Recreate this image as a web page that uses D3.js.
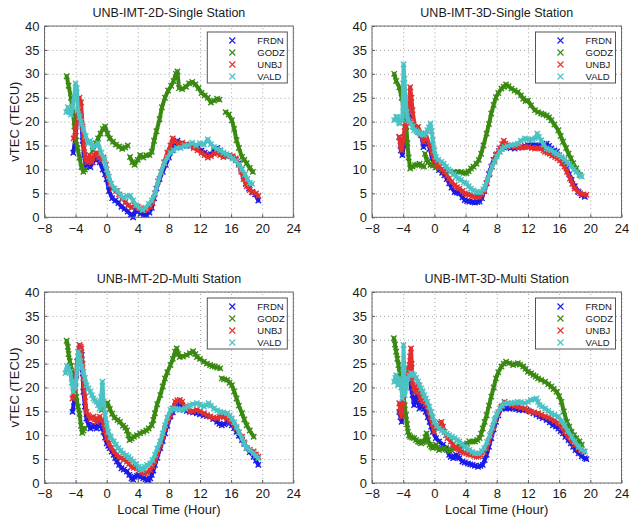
<!DOCTYPE html>
<html>
<head>
<meta charset="utf-8">
<script src="https://cdn.jsdelivr.net/npm/d3@7"></script>
<style>
  body { margin: 0; background: #fff; }
  svg { display: block; font-family: "Liberation Sans", Arial, sans-serif; }
</style>
</head>
<body>
<script>
// Station names and tick values
const stations = ["FRDN", "GODZ", "UNBJ", "VALD"];
const colors = ["#1c1ce8", "#3a8a12", "#e2302e", "#4cc2c4"];
const panelTitles = ["UNB-IMT-2D-Single Station", "UNB-IMT-3D-Single Station",
                     "UNB-IMT-2D-Multi Station", "UNB-IMT-3D-Multi Station"];
const xTicks = [-8, -4, 0, 4, 8, 12, 16, 20, 24];
const yTicks = [0, 5, 10, 15, 20, 25, 30, 35, 40];

// [local hour, vTEC]; null = gap in the record
const frdn2DS = [[-4.3,13.5],[-4.0,17],[-3.8,21],[-3.55,24],[-3.3,21],[-3.1,16],[-2.9,13],[-2.7,10.5],[-2.4,11],[-2.1,10.5],[-1.8,11.5],[-1.5,12],[-1.2,12.5],[-0.9,11.5],[-0.5,10],[-0.2,9],[0,8],[0.3,5.5],[0.7,4],[1.1,3.5],[1.5,3],[1.9,2.2],[2.3,1.8],[2.7,1.2],[3.1,0.6],[3.4,0],[3.7,1.5],[4.0,1.2],[4.4,0.8],[4.8,0.5],[5.1,0.5],[5.5,1],[5.8,2],[6.1,4],[6.4,6],[6.8,8],[7.2,9.5],[7.6,11],[8.0,12.5],[8.4,14],[8.8,15.5],[9.1,16],[9.4,15.2],[9.8,15],[10.3,15],[10.8,15],[11.2,14.8],[11.7,14.5],[12.2,14],[12.6,13.5],[13.0,13],[13.4,13.2],[13.8,14],[14.2,14.5],[14.6,14],[15.0,13.2],[15.4,12.8],[15.8,12.8],[16.2,12.5],[16.6,12],[17.0,11.3],[17.3,10],[17.6,8.5],[17.9,7],[18.3,6],[18.7,5.3],[19.1,4.8],[19.5,3.5]];
const godz2DS = [[-5.15,29.5],[-4.9,27.5],[-4.6,25],[-4.35,22],[-4.15,19],[-3.95,16],[-3.75,14.5],[-3.5,12.5],[-3.25,10.5],[-3.0,9.5],[-2.8,10],null,[-1.8,14],[-1.4,15.5],[-1.1,16.5],[-0.8,17.5],[-0.5,18.5],[-0.2,19],[0.1,17.5],[0.4,16.5],[0.8,15.8],[1.2,15.2],[1.6,14.8],[2.0,14.3],[2.4,14.6],[2.7,15],null,[3.0,12.6],[3.3,11.5],[3.6,11],[4.0,12],[4.3,13],[4.7,12.5],[5.1,13],[5.5,13],[5.8,13.7],[6.1,16],[6.4,18],[6.8,20.5],[7.1,23],[7.5,25],[7.9,26.5],[8.3,27.5],[8.6,28.5],[8.9,30],[9.1,30.5],[9.3,27],[9.7,26.8],[10.2,27.3],[10.6,28],[11.0,28.3],[11.4,27.8],[11.8,27],[12.2,26],[12.6,25.5],[13.0,25],[13.4,24],[13.8,24.4],[14.2,24.8],[14.5,24.6],null,[15.3,22],[15.7,21.5],[16.1,20.3],[16.4,18.5],[16.7,16.1],[17.0,14.5],[17.4,12.6],[17.7,12],[18.0,11.3],[18.4,10.3],[18.8,9.5]];
const unbj2DS = [[-4.25,16.5],[-4.0,18],[-3.75,21],[-3.5,25],[-3.3,24],[-3.1,19],[-2.9,14.5],[-2.7,12],[-2.5,11.5],[-2.2,13],[-1.9,11.5],[-1.6,13],[-1.3,13.5],[-1.0,12.5],[-0.7,12],[-0.4,12.5],[-0.1,11],[0.1,9],[0.4,7],[0.8,6],[1.2,5.5],[1.6,4.8],[2.0,4],[2.4,3.2],[2.8,2.5],[3.2,2],[3.6,2.5],[4.0,2.2],[4.4,1.8],[4.8,1.5],[5.2,1.6],[5.6,2.2],[5.9,3],[6.2,5],[6.6,7.5],[7.0,9.5],[7.4,11.5],[7.8,13.5],[8.2,15],[8.5,16.5],[8.8,15.8],[9.2,15.5],[9.7,15.6],[10.2,15.3],[10.7,15],[11.2,14.5],[11.7,14],[12.2,13.5],[12.6,13],[13.0,12.5],[13.4,12.8],[13.8,13.3],[14.2,13.5],[14.6,13],[15.0,12.6],[15.4,12.8],[15.8,13],[16.2,12.8],[16.6,12.3],[17.0,11],[17.3,9.5],[17.6,8],[18.0,6.5],[18.4,5.7],[18.8,5.2],[19.2,5],[19.5,4.5]];
const vald2DS = [[-5.2,22],[-5.0,23],[-4.8,22],[-4.6,21.5],[-4.4,23],[-4.2,25],[-4.0,28],[-3.85,27],[-3.7,22.5],[-3.5,21],[-3.3,20],[-3.0,18.5],[-2.7,17],[-2.4,15.5],[-2.1,16],[-1.8,14.5],[-1.5,15],[-1.1,15.5],[-0.7,13.5],[-0.3,12],[0,10],[0.3,8.5],[0.6,7],[1.0,6],[1.4,5.5],[1.8,4.5],[2.2,4],[2.6,4.5],[3.0,4.5],[3.4,3.5],[3.8,2.5],[4.2,2],[4.6,1.5],[5.0,2],[5.4,2.8],[5.8,3.5],[6.2,5],[6.6,7.5],[7.0,9.5],[7.4,11.3],[7.8,12.5],[8.2,13.5],[8.6,14],[9.0,14.5],[9.5,14.5],[10.0,15],[10.5,15],[11.0,15.6],[11.5,15],[12.0,15.5],[12.5,15.2],[13.0,16.3],[13.4,15.3],[13.8,14.7],[14.2,14.3],[14.6,14],[15.0,13.5],[15.4,13.2],[15.8,12.8],[16.2,12.3],[16.6,11.8],[17.0,11],[17.4,10],[17.8,9],[18.1,8],[18.4,7.2],[18.7,7]];

const frdn3DS = [[-4.5,16.8],[-4.3,14],[-4.1,13],[-3.9,15],[-3.65,19],[-3.35,21.7],[-3.0,20.6],[-2.6,18.9],[-2.1,17.8],[-1.7,17.2],[-1.4,14.7],[-1.1,16.1],[-0.6,14.4],[-0.3,12.5],[0,11.2],[0.3,10.5],[0.6,9.9],[1.0,9.3],[1.3,8.8],[1.6,8],[1.9,7.1],[2.2,6.2],[2.6,5.3],[2.9,5.2],[3.2,5],[3.6,4.2],[3.9,3.6],[4.2,3.4],[4.5,3.3],[4.9,3.2],[5.2,3.1],[5.5,3.2],[5.8,3.3],[6.1,4],[6.4,5.5],[6.7,7.1],[7.0,9],[7.3,10.6],[7.6,12],[7.9,13],[8.3,13.8],[8.6,14.4],[9.0,14.6],[9.4,14.7],[9.8,14.5],[10.3,14.4],[10.8,14.6],[11.2,14.7],[11.6,14.9],[12.0,15.1],[12.5,15.1],[12.9,15.1],[13.3,15],[13.7,15.1],[14.1,15.3],[14.4,15.4],[14.7,14.9],[15.0,14.4],[15.4,14],[15.7,13.7],[16.0,13],[16.3,12.3],[16.6,11.3],[16.95,10.2],[17.3,9],[17.6,7.8],[18.0,6.5],[18.5,5.3],[18.9,4.6],[19.3,4.3]];
const godz3DS = [[-5.15,30],[-4.9,28.5],[-4.5,27.2],[-4.2,25],[-3.95,23],[-3.75,20.5],[-3.6,18.9],[-3.45,15.5],[-3.3,12.5],[-3.1,10.2],[-2.8,10.6],[-2.5,10.9],[-2.2,11],[-1.9,11.2],[-1.6,10.8],[-1.35,10.6],null,[-1.2,13.3],[-1.0,12],[-0.8,11.5],[-0.5,11],[-0.2,10.8],[0.2,10.5],[0.6,10.3],[1.0,10],[1.5,9.8],[2.0,9.6],[2.5,9.5],[3.0,9.5],[3.4,9.5],[3.8,9.3],[4.1,9.2],[4.4,9.6],[4.7,10.2],[5.0,10.6],[5.4,11.2],[5.7,12],[6.0,13.3],[6.3,15],[6.7,17.5],[7.0,19.5],[7.3,21.7],[7.6,23.5],[7.9,25.1],[8.2,26],[8.6,26.9],[8.9,27.3],[9.2,27.8],[9.5,27.4],[9.9,26.9],[10.3,26.5],[10.7,26.2],[11.1,25.5],[11.4,24.8],[11.7,24.3],[12.0,24.4],[12.4,23.4],[12.9,22.4],[13.3,22],[13.7,21.7],[14.0,21.5],[14.4,21.3],[14.7,20.9],[15.0,20.3],[15.4,19.4],[15.9,18.2],[16.2,17],[16.5,15.8],[16.9,14.5],[17.2,13.3],[17.5,12.3],[17.8,11.3],[18.2,10.2],[18.7,8.8]];
const unbj3DS = [[-4.5,16.8],[-4.35,15],[-4.2,14],[-4.0,16],[-3.8,18.9],[-3.6,19.8],[-3.4,20.3],[-3.25,23],[-3.1,27.2],[-2.95,25],[-2.8,22.4],[-2.5,18.9],[-2.1,18.9],[-1.7,17.5],[-1.4,15.8],[-1.1,17.2],[-0.6,15.1],[-0.3,13.5],[0,11.9],[0.3,11.2],[0.6,10.6],[1.0,10],[1.3,9.5],[1.6,8.8],[1.9,8.1],[2.2,7.4],[2.6,6.7],[2.9,6.3],[3.2,6],[3.6,5.5],[3.9,5],[4.2,4.8],[4.5,4.7],[4.9,4.5],[5.2,4.3],[5.5,4.3],[5.8,4.3],[6.1,4.8],[6.4,5.7],[6.7,7.2],[7.1,9.2],[7.4,10.6],[7.7,11.9],[8.0,13.2],[8.4,14.4],[8.7,15.3],[8.9,16],[9.1,15.4],[9.4,15.1],[9.8,14.9],[10.3,14.7],[10.8,14.6],[11.2,14.6],[11.6,14.7],[12.0,14.7],[12.5,14.5],[12.9,14.4],[13.3,14.5],[13.7,14.4],[14.0,14],[14.2,13.7],[14.5,13.5],[14.8,13.3],[15.1,12.9],[15.5,12.6],[15.8,12.3],[16.1,11.9],[16.4,11.3],[16.7,10.6],[17.0,9.5],[17.4,8.1],[17.7,7],[18.0,6],[18.4,5.4],[18.7,5],[19.1,4.8],[19.5,4.7]];
const vald3DS = [[-5.15,20.3],[-4.9,21],[-4.7,21],[-4.55,19.8],[-4.4,19.6],[-4.25,20.3],[-4.1,20.6],[-4.0,28],[-3.95,32],[-3.85,29],[-3.7,25],[-3.55,22],[-3.4,20.3],[-3.2,20],[-3.0,19.6],[-2.8,19],[-2.6,18.2],[-2.3,18],[-2.1,17.8],[-1.9,17.5],[-1.7,17.5],[-1.5,17.3],[-1.3,17.2],[-1.1,17.6],[-0.9,18.2],[-0.7,18.8],[-0.5,19.6],[-0.35,18],[-0.2,16.1],[0,14],[0.2,12.6],[0.5,12],[0.9,11.6],[1.2,11.2],[1.5,10.6],[1.8,10],[2.1,9.5],[2.5,9],[2.8,8.5],[3.1,8.1],[3.4,7.8],[3.8,7.3],[4.1,7.1],[4.4,6.5],[4.7,6],[5.0,5.6],[5.4,5.3],[5.7,5.3],[6.0,5.3],[6.3,5.8],[6.5,6.4],[6.8,7.8],[7.1,9.2],[7.4,10.5],[7.7,11.6],[8.0,12.7],[8.4,13.7],[8.7,14.3],[9.0,14.7],[9.4,14.9],[9.9,15.1],[10.3,15.2],[10.7,15.4],[11.1,16],[11.6,16.5],[11.9,16.3],[12.2,16.1],[12.6,16.3],[12.9,16.5],[13.2,17.5],[13.4,16.8],[13.7,16.1],[14.0,15.2],[14.4,14.4],[14.7,14.2],[15.0,14],[15.4,13.6],[15.7,13.3],[16.0,13],[16.3,12.6],[16.7,12.1],[17.0,11.6],[17.3,11.1],[17.6,10.6],[17.9,10],[18.2,9.5],[18.6,8.9],[18.9,8.5]];

const frdn2DM = [[-4.4,14.9],[-4.2,17],[-4.05,20],[-3.9,22.6],[-3.7,25.5],[-3.5,28.2],[-3.35,27.5],[-3.2,26.8],[-3.1,23],[-3.0,19.1],[-2.8,16],[-2.6,13.5],[-2.35,12.2],[-2.1,11.4],[-1.9,11.8],[-1.7,12.1],[-1.5,11.8],[-1.3,11.4],[-1.1,12],[-0.9,12.5],[-0.6,11.5],[-0.4,10.7],[-0.2,9.5],[0,8.3],[0.2,7.8],[0.4,7.3],[0.65,6.6],[0.9,5.9],[1.1,5.2],[1.3,4.5],[1.6,3.8],[1.9,3.1],[2.2,2.8],[2.6,2.4],[2.9,1.7],[3.2,1],[3.4,0.7],[3.6,1.3],[3.9,1.5],[4.1,1.7],[4.4,1.3],[4.7,1],[5.0,0.8],[5.2,0.6],[5.4,0.6],[5.6,1],[5.8,1.7],[6.0,2.6],[6.2,3.8],[6.5,5.3],[6.9,7.3],[7.2,8.8],[7.5,10.4],[7.8,12],[8.2,13.9],[8.5,14.8],[8.8,15.6],[9.1,16.2],[9.4,16.7],[9.6,16.2],[9.9,15.3],[10.3,15.1],[10.7,14.9],[11.1,14.8],[11.6,14.6],[12.0,14.4],[12.5,14.2],[12.9,14],[13.3,13.9],[13.7,13.4],[14.2,12.8],[14.5,12.4],[14.8,12.1],[15.1,12.3],[15.5,12.8],[15.8,12.5],[16.1,12.1],[16.4,11.5],[16.7,10.7],[17.0,9.9],[17.4,9],[17.7,8.2],[18.0,7.3],[18.4,6.5],[18.9,5.5],[19.2,4.7],[19.5,3.8]];
const godz2DM = [[-5.15,29.8],[-5.0,28.5],[-4.9,27],[-4.75,25.5],[-4.6,24.5],[-4.45,23.2],[-4.3,22],[-4.1,20],[-3.9,18],[-3.7,16],[-3.5,14.5],[-3.3,12],[-3.15,10.5],[-3.0,11],[-2.85,11.5],null,[-0.65,15.3],[-0.3,16.3],[0.1,16.8],[0.4,15.5],[0.7,14.5],[1.0,13.7],[1.4,13.2],[1.7,12.8],[2.1,12],[2.4,11.6],[2.6,11],[2.8,10],[2.95,9],[3.2,9.3],[3.5,9.7],[3.9,10],[4.3,10.4],[4.7,10.7],[5.1,11],[5.4,11.4],[5.8,12.1],[6.0,13.2],[6.2,14.6],[6.5,16.5],[6.9,18.4],[7.2,20.2],[7.5,21.9],[7.8,23.2],[8.2,24.7],[8.5,26],[8.8,27.5],[9.0,28.2],[9.2,27],[9.4,26.4],[9.8,26.5],[10.3,26.8],[10.7,27.2],[11.1,27.6],[11.4,27],[11.6,26.4],[12.0,26],[12.5,25.4],[12.9,25],[13.3,24.7],[13.6,24.5],[13.9,24.4],[14.2,24.2],[14.6,24],null,[14.8,21.9],[15.1,21.7],[15.5,21.6],[15.8,21],[16.1,20.5],[16.4,19.2],[16.7,17.7],[17.0,16.2],[17.4,14.6],[17.7,13.3],[18.0,12.1],[18.4,11],[18.9,9.7]];
const unbj2DM = [[-4.4,17.7],[-4.25,18.8],[-4.1,19.8],[-3.95,22.5],[-3.8,25.4],[-3.65,27.5],[-3.5,28.9],[-3.35,28.6],[-3.25,28.2],[-3.1,25],[-3.0,21.9],[-2.8,18],[-2.6,14.9],[-2.35,14.2],[-2.1,13.5],[-1.9,13.7],[-1.7,13.9],[-1.5,13.3],[-1.3,12.8],[-1.1,13.4],[-0.9,13.9],[-0.6,13.2],[-0.4,12.5],[-0.2,11],[0,9.4],[0.3,8.3],[0.6,7.3],[0.95,6.6],[1.3,5.9],[1.6,5.5],[1.9,5.2],[2.2,4.9],[2.6,4.5],[2.9,4],[3.2,3.4],[3.5,3.2],[3.9,3.1],[4.2,2.7],[4.5,2.4],[4.7,2.2],[4.9,2],[5.2,2.2],[5.6,2.7],[5.9,3.5],[6.2,4.5],[6.5,6],[6.9,8],[7.2,9.7],[7.5,11.4],[7.8,12.8],[8.2,14.2],[8.5,15.6],[8.8,17],[9.1,17.3],[9.4,17.4],[9.7,17],[10.1,16],[10.4,15.4],[10.7,14.9],[11.1,15.1],[11.6,15.3],[12.0,15],[12.5,14.6],[12.9,14.2],[13.3,13.9],[13.7,13.7],[14.2,13.5],[14.5,13.9],[14.8,14.2],[15.1,13.8],[15.5,13.5],[15.8,13.1],[16.1,12.8],[16.4,12.1],[16.7,11.4],[17.0,10.6],[17.4,9.7],[17.7,8.5],[18.0,7.3],[18.4,7],[18.9,6.6],[19.2,6],[19.5,5.5]];
const vald2DM = [[-5.3,23],[-5.1,24.5],[-4.9,24],[-4.7,23.3],[-4.5,21],[-4.3,19.1],[-4.1,20],[-3.95,21.2],[-3.8,24],[-3.65,27.5],[-3.5,26.5],[-3.4,25.4],[-3.2,24.3],[-3.0,23.3],[-2.8,22],[-2.6,20.5],[-2.35,19.8],[-2.1,19.1],[-1.9,18.4],[-1.7,17.7],[-1.5,17.3],[-1.3,17],[-1.1,16.3],[-0.9,15.6],[-0.7,18],[-0.55,21.2],[-0.4,17],[-0.2,14.2],[0,12.4],[0.2,10.7],[0.5,9.7],[0.9,8.7],[1.2,8],[1.5,7.3],[1.8,6.8],[2.1,6.2],[2.5,5.8],[2.8,5.5],[3.1,5],[3.4,4.5],[3.8,4],[4.1,3.4],[4.3,3],[4.5,2.7],[4.7,3],[4.9,3.4],[5.2,3.8],[5.6,4.1],[5.9,4.8],[6.2,5.9],[6.5,7.2],[6.9,8.7],[7.2,10.4],[7.5,12.1],[7.8,13.7],[8.2,15.3],[8.5,15.5],[8.8,15.6],[9.1,15.5],[9.4,15.3],[9.7,15.4],[10.1,15.6],[10.4,16],[10.7,16.3],[11.1,16.5],[11.6,16.7],[12.0,16.4],[12.5,16],[12.8,16.3],[13.1,16.7],[13.4,16.2],[13.8,15.6],[14.2,15.2],[14.6,14.9],[15.0,14.8],[15.5,14.6],[15.8,14.1],[16.1,13.5],[16.4,12.7],[16.7,11.8],[17.0,10.6],[17.4,9.4],[17.7,8.3],[18.0,7.3],[18.4,6.8],[18.9,6.2],[19.2,5.7],[19.5,5.2]];

const frdn3DM = [[-4.5,14.9],[-4.35,13.8],[-4.2,12.8],[-4.05,16],[-3.9,19.8],[-3.7,21.5],[-3.5,22.6],[-3.35,22.3],[-3.2,21.9],[-3.0,20],[-2.8,18.4],[-2.6,16.3],[-2.4,17.5],[-2.2,18.4],[-2.05,17],[-1.9,15.6],[-1.7,16],[-1.5,16.3],[-1.3,15.6],[-1.1,14.9],[-0.85,13.8],[-0.6,12.8],[-0.4,11.8],[-0.2,10.7],[0.2,9.4],[0.6,8.7],[1.1,8],[1.5,7.3],[1.9,5.9],[2.1,5.5],[2.4,5.2],[2.6,5.5],[2.8,5.9],[3.0,5.5],[3.2,5.2],[3.6,4.5],[3.9,4.3],[4.3,4.1],[4.6,3.9],[4.9,3.8],[5.2,3.6],[5.6,3.4],[5.9,3.6],[6.2,3.8],[6.45,4.8],[6.7,5.9],[7.0,7.6],[7.3,9.4],[7.6,11.2],[7.9,12.8],[8.2,14.2],[8.6,15.6],[8.9,15.7],[9.2,15.6],[9.6,15.6],[10.1,15.6],[10.5,15.5],[10.9,15.3],[11.3,15.3],[11.8,15.3],[12.2,15],[12.7,14.6],[13.1,14.3],[13.5,13.9],[13.9,13.6],[14.4,13.2],[14.8,12.7],[15.2,12.1],[15.6,11.8],[15.9,11.4],[16.2,10.9],[16.5,10.4],[16.8,9.7],[17.2,9],[17.5,8.3],[17.8,7.6],[18.1,6.9],[18.5,6.2],[18.9,5.6],[19.3,5.2],[19.5,5]];
const godz3DM = [[-5.2,30.3],[-5.05,29],[-4.9,27.5],[-4.75,26],[-4.6,24.7],[-4.45,23.2],[-4.3,21.9],[-4.1,20],[-3.95,18.4],[-3.8,16.3],[-3.65,14.2],[-3.5,12.3],[-3.4,10.7],[-3.25,10],[-3.1,9.7],[-2.85,9.5],[-2.6,9.4],[-2.35,9],[-2.1,8.7],[-1.9,8.5],[-1.7,8.3],[-1.5,8.5],[-1.3,8.7],[-1.15,9.6],[-1.0,10.4],[-0.8,9],[-0.6,8],[-0.4,7.6],[-0.2,7.3],[0.0,7.7],[0.2,8],[0.4,7.4],[0.6,6.9],[0.9,7.1],[1.3,7.3],[1.6,6.9],[1.9,6.6],[2.15,7],[2.4,7.3],[2.8,7.5],[3.2,7.7],[3.6,7.9],[3.9,8],[4.2,8.3],[4.5,8.7],[4.9,8.7],[5.2,8.7],[5.5,9],[5.8,9.4],[6.0,10.3],[6.2,11.4],[6.45,12.8],[6.7,14.2],[7.0,16.2],[7.3,18.1],[7.6,20],[7.9,21.9],[8.2,23.2],[8.6,24.4],[8.9,25],[9.2,25.4],[9.6,25.1],[10.1,24.7],[10.4,24.9],[10.7,25.1],[11.0,24.8],[11.4,24.4],[11.7,23.9],[12.0,23.3],[12.4,23],[12.7,22.6],[13.0,22.3],[13.3,21.9],[13.7,21.6],[14.2,21.2],[14.6,20.7],[15.0,20.2],[15.3,19.7],[15.7,19.1],[16.0,18.2],[16.3,17],[16.6,15],[17.0,12.8],[17.3,11.8],[17.6,10.7],[17.9,10],[18.2,9.4],[18.6,8.7],[18.9,8]];
const unbj3DM = [[-4.5,16.7],[-4.35,15],[-4.2,13.9],[-4.05,17],[-3.9,20.5],[-3.7,22],[-3.5,23.3],[-3.35,24],[-3.2,24.7],[-3.1,26.5],[-3.0,28.2],[-2.9,25],[-2.8,21.2],[-2.65,20],[-2.5,19.1],[-2.3,19.8],[-2.1,20.5],[-1.95,19],[-1.8,17.7],[-1.6,17.3],[-1.4,17],[-1.15,16.5],[-0.9,16],[-0.7,15],[-0.5,13.9],[-0.25,12.3],[0,10.7],[0.25,11.5],[0.5,12.1],[0.7,12.5],[0.9,12.8],[1.1,11.8],[1.3,10.7],[1.5,10],[1.7,9.4],[2.1,8.7],[2.4,8],[2.8,7.3],[3.1,7],[3.4,6.6],[3.8,6.4],[4.1,6.2],[4.4,6],[4.7,5.9],[5.1,5.7],[5.4,5.5],[5.7,5.6],[6.0,5.9],[6.35,6.5],[6.7,7.3],[7.0,8.8],[7.3,10.4],[7.6,12],[7.9,13.5],[8.2,14.8],[8.6,16],[9.0,17],[9.4,16.7],[9.9,16.3],[10.3,16.1],[10.7,16],[11.1,15.8],[11.6,15.6],[12.0,15.2],[12.4,14.9],[12.8,14.8],[13.3,14.6],[13.7,14.3],[14.2,13.9],[14.6,13.7],[15.0,13.5],[15.4,13],[15.9,12.5],[16.3,11.6],[16.7,10.7],[17.1,9.8],[17.6,8.7],[18.0,8],[18.5,7.3],[18.8,6.9],[19.1,6.6]];
const vald3DM = [[-5.15,21.2],[-5.0,22],[-4.9,22.6],[-4.8,21.5],[-4.7,20.5],[-4.55,21.2],[-4.4,21.9],[-4.25,20],[-4.1,17.7],[-4.0,24],[-3.95,28.9],[-3.88,24],[-3.8,18.4],[-3.6,20],[-3.4,21.9],[-3.2,22.5],[-3.0,23],[-2.8,22.8],[-2.6,22.6],[-2.35,22],[-2.1,21.2],[-1.9,20.5],[-1.7,19.8],[-1.5,19.1],[-1.3,18.4],[-1.1,17.7],[-0.9,17],[-0.65,16],[-0.4,14.9],[-0.2,13.8],[0,12.8],[0.3,12],[0.6,11.4],[0.95,11],[1.3,10.7],[1.6,10.3],[1.9,10],[2.25,9.7],[2.6,9.4],[2.9,9],[3.2,8.7],[3.55,8.1],[3.9,7.6],[4.2,7.2],[4.5,6.9],[4.85,6.5],[5.2,6.2],[5.5,6.2],[5.8,6.2],[6.1,6.7],[6.4,7.3],[6.75,8.6],[7.1,10],[7.4,11.6],[7.7,13.2],[8.0,14.4],[8.4,15.6],[8.7,16.2],[9.0,16.7],[9.4,16.7],[9.9,16.7],[10.3,16.8],[10.7,17],[11.1,16.9],[11.6,16.7],[12.0,17],[12.4,17.4],[12.8,17.5],[13.1,17.7],[13.3,17],[13.5,16.3],[13.8,16],[14.2,15.6],[14.6,15.1],[15.0,14.6],[15.4,14.3],[15.9,13.9],[16.3,13],[16.7,12.1],[17.1,10.9],[17.6,9.7],[18.0,8.7],[18.5,7.6],[18.9,7],[19.3,6.6]];

const panelSeries = [
  [frdn2DS, godz2DS, unbj2DS, vald2DS],
  [frdn3DS, godz3DS, unbj3DS, vald3DS],
  [frdn2DM, godz2DM, unbj2DM, vald2DM],
  [frdn3DM, godz3DM, unbj3DM, vald3DM]
];

// Layout of the four axes boxes (pixels)
const boxes = [
  {left: 44.5, right: 293.3, top: 26, bottom: 217.3},
  {left: 372, right: 621.5, top: 26, bottom: 217.3},
  {left: 44.5, right: 293.3, top: 292, bottom: 483},
  {left: 372, right: 621.5, top: 292, bottom: 483}
];

const svg = d3.select("body").append("svg")
  .attr("width", 630)
  .attr("height", 522)
  .style("background", "white");

const xMark = (s) => `M${-s},${-s}L${s},${s}M${-s},${s}L${s},${-s}`;

boxes.forEach((b, i) => {
  const width = b.right - b.left;
  const height = b.bottom - b.top;
  const g = svg.append("g").attr("transform", `translate(${b.left}, ${b.top})`);

  const xScale = d3.scaleLinear().domain([-8, 24]).range([0, width]);
  const yScale = d3.scaleLinear().domain([0, 40]).range([height, 0]);

  // dotted grid
  const gridX = g.append("g")
    .attr("transform", `translate(0, ${height})`)
    .call(d3.axisBottom(xScale).tickValues(xTicks).tickSize(-height).tickFormat(""));
  const gridY = g.append("g")
    .call(d3.axisLeft(yScale).tickValues(yTicks).tickSize(-width).tickFormat(""));
  [gridX, gridY].forEach(gr => {
    gr.select(".domain").remove();
    gr.selectAll("line")
      .attr("stroke", "#8a8a8a")
      .attr("stroke-width", 0.8)
      .attr("stroke-dasharray", "1,3");
  });

  // data: thick band + x markers
  const line = d3.line()
    .defined(d => d !== null)
    .x(d => xScale(d[0]))
    .y(d => yScale(d[1]));

  panelSeries[i].forEach((series, k) => {
    g.append("path")
      .datum(series)
      .attr("fill", "none")
      .attr("stroke", colors[k])
      .attr("stroke-width", 4)
      .attr("stroke-linejoin", "round")
      .attr("stroke-linecap", "round")
      .attr("d", line);
    g.selectAll(".pt" + k)
      .data(series.filter(d => d !== null))
      .join("path")
      .attr("class", "pt" + k)
      .attr("transform", d => `translate(${xScale(d[0])}, ${yScale(d[1])})`)
      .attr("d", xMark(2.7))
      .attr("stroke", colors[k])
      .attr("stroke-width", 1.4)
      .attr("fill", "none");
  });

  // tick labels with small inside ticks
  const xAxis = g.append("g")
    .attr("transform", `translate(0, ${height})`)
    .call(d3.axisBottom(xScale).tickValues(xTicks).tickSizeInner(-3).tickSizeOuter(0).tickPadding(6));
  const yAxis = g.append("g")
    .call(d3.axisLeft(yScale).tickValues(yTicks).tickSizeInner(-3).tickSizeOuter(0).tickPadding(5));
  [xAxis, yAxis].forEach(ax => {
    ax.select(".domain").remove();
    ax.selectAll("line").attr("stroke", "#555");
    ax.selectAll("text")
      .attr("fill", "#1a1a1a")
      .style("font-size", "13px")
      .style("font-family", "Liberation Sans, Arial, sans-serif");
  });

  // box
  g.append("rect")
    .attr("width", width)
    .attr("height", height)
    .attr("fill", "none")
    .attr("stroke", "#6a6a6a")
    .attr("stroke-width", 1);

  // title
  svg.append("text")
    .text(panelTitles[i])
    .attr("x", (b.left + b.right) / 2)
    .attr("y", b.top - 9)
    .attr("text-anchor", "middle")
    .style("font-size", "12.5px")
    .style("fill", "#1a1a1a");

  // legend
  const lg = g.append("g").attr("transform", `translate(${width - 86}, 6)`);
  lg.append("rect")
    .attr("width", 80)
    .attr("height", 51)
    .attr("fill", "white")
    .attr("stroke", "#555")
    .attr("stroke-width", 1);
  stations.forEach((s, k) => {
    const yy = 8.5 + k * 12;
    lg.append("path")
      .attr("transform", `translate(25, ${yy})`)
      .attr("d", xMark(3))
      .attr("stroke", colors[k])
      .attr("stroke-width", 1.1)
      .attr("fill", "none");
    lg.append("text")
      .text(s)
      .attr("x", 50)
      .attr("y", yy + 3.5)
      .style("font-size", "9.5px")
      .style("fill", "#1a1a1a");
  });
});

// axis labels
svg.append("text")
  .text("vTEC (TECU)")
  .attr("transform", `translate(19, ${(boxes[0].top + boxes[0].bottom) / 2}) rotate(-90)`)
  .attr("text-anchor", "middle")
  .style("font-size", "13px")
  .style("fill", "#1a1a1a");
svg.append("text")
  .text("vTEC (TECU)")
  .attr("transform", `translate(19, ${(boxes[2].top + boxes[2].bottom) / 2}) rotate(-90)`)
  .attr("text-anchor", "middle")
  .style("font-size", "13px")
  .style("fill", "#1a1a1a");
[2, 3].forEach(i => {
  svg.append("text")
    .text("Local Time (Hour)")
    .attr("x", (boxes[i].left + boxes[i].right) / 2)
    .attr("y", 514)
    .attr("text-anchor", "middle")
    .style("font-size", "13px")
    .style("fill", "#1a1a1a");
});
</script>
</body>
</html>
